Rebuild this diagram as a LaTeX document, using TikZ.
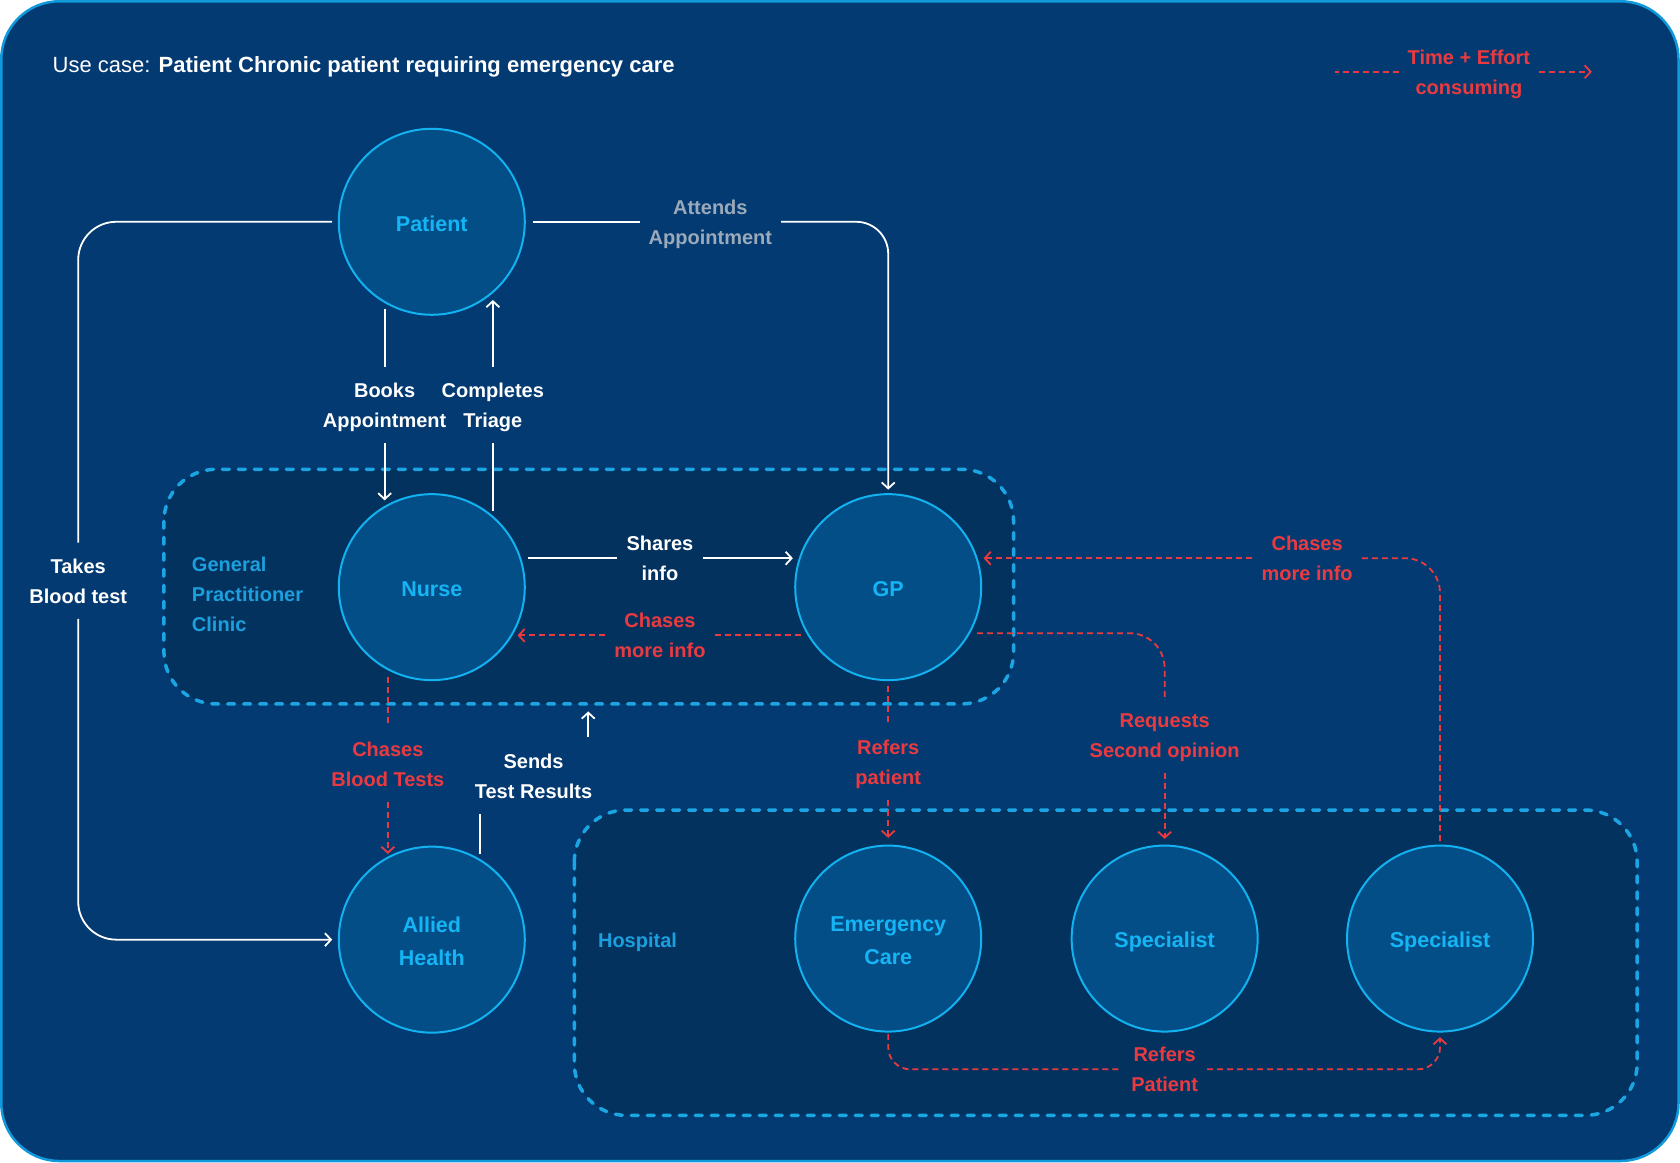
\documentclass[tikz,border=0pt]{standalone}
\usepackage{fontspec}
\setmainfont{Liberation Sans}
\usetikzlibrary{arrows.meta,calc}
\definecolor{bgc}{HTML}{033A72}
\definecolor{framec}{HTML}{109ADB}
\definecolor{gfill}{HTML}{03325F}
\definecolor{gstroke}{HTML}{1BA5E2}
\definecolor{glabel}{HTML}{1C9FDD}
\definecolor{cfill}{HTML}{034E87}
\definecolor{cstroke}{HTML}{12B2F0}
\definecolor{ctext}{HTML}{15B5F5}
\definecolor{redc}{HTML}{EA3A40}
\definecolor{greyc}{HTML}{9BAABB}
\newcommand\lblT{\rule{0pt}{19.7pt}}
\newcommand\lblB{\rule[-4.6pt]{0pt}{4.6pt}}
\newcommand\crcT{\rule{0pt}{22.6pt}}
\newcommand\crcB{\rule[-4pt]{0pt}{4pt}}
\begin{document}
\begin{tikzpicture}[x=1.0714pt,y=-1.0714pt,
  circ/.style={circle, minimum size=186pt, inner sep=0pt, draw=cstroke, line width=2pt, fill=cfill, text=ctext, font=\fontsize{21.5pt}{33pt}\selectfont\bfseries, align=center},
  lbl/.style={font=\fontsize{20pt}{30pt}\selectfont\bfseries, align=center, inner xsep=9pt, inner ysep=10.8pt},
  wl/.style={draw=white, line width=1.8pt},
  rl/.style={draw=redc, line width=1.8pt, dash pattern=on 6pt off 4pt},
  grp/.style={draw=gstroke, fill=gfill, line width=3.5pt, dash pattern=on 7pt off 9pt, line cap=round, rounded corners=52pt},
  >={Straight Barb[length=6pt,width=13pt]}
]
\useasboundingbox (0,0) rectangle (1568,1085);
\fill[white] (0,0) rectangle (1568,1085);
\draw[draw=framec, fill=bgc, line width=2.5pt, rounded corners=58pt] (1.2,1.2) rectangle (1566.6,1083.6);

% groups
\draw[grp] (153,438) rectangle (946,657);
\draw[grp] (536,756) rectangle (1528,1041);
\node[anchor=west, text=glabel, align=left, inner sep=0pt, font=\fontsize{20pt}{30pt}\selectfont\bfseries] (gplabel) at (179,555) {General\\Practitioner\\Clinic};
\node[anchor=base west, text=glabel, inner sep=0pt, font=\fontsize{20pt}{30pt}\selectfont\bfseries] (hosplabel) at (558,884.5) {Hospital};

% title and legend
\node[anchor=base west, text=white, inner sep=0pt, font=\fontsize{22pt}{26pt}\selectfont] (title) at (49,67.5) {Use case: \textbf{Patient Chronic patient requiring emergency care}};
\node[lbl, text=redc] (legend) at (1371,67) {\lblT Time + Effort\\consuming\lblB};
\draw[rl] (legend.west) -- ++(-59,0);
\draw[rl,->] (legend.east) -- ++(49,0);

% circles
\node[circ] (patient) at (403,207) {\crcT Patient\crcB};
\node[circ] (nurse) at (403,548) {\crcT Nurse\crcB};
\node[circ] (gp) at (829,548) {\crcT GP\crcB};
\node[circ] (allied) at (403,877) {\crcT Allied\\Health\crcB};
\node[circ] (emerg) at (829,876) {\crcT Emergency\\Care\crcB};
\node[circ] (spec1) at (1087,876) {\crcT Specialist\crcB};
\node[circ] (spec2) at (1344,876) {\crcT Specialist\crcB};

% labels
\node[lbl, text=white] (takes) at (73,542) {\lblT Takes\\Blood test\lblB};
\node[lbl, text=greyc] (attends) at (663,207) {\lblT Attends\\Appointment\lblB};
\node[lbl, text=white] (books) at (359,378) {\lblT Books\\Appointment\lblB};
\node[lbl, text=white] (completes) at (460,378) {\lblT Completes\\Triage\lblB};
\node[lbl, text=white] (shares) at (616,521) {\lblT Shares\\info\lblB};
\node[lbl, text=redc] (chasesN) at (616,593) {\lblT Chases\\more info\lblB};
\node[lbl, text=redc] (chasesBT) at (362,713) {\lblT Chases\\Blood Tests\lblB};
\node[lbl, text=white] (sends) at (498,724) {\lblT Sends\\Test Results\lblB};
\node[lbl, text=redc] (refersP) at (829,711) {\lblT Refers\\patient\lblB};
\node[lbl, text=redc] (requests) at (1087,686) {\lblT Requests\\Second opinion\lblB};
\node[lbl, text=redc] (chasesGP) at (1220,521) {\lblT Chases\\more info\lblB};
\node[lbl, text=redc] (refersS) at (1087,998) {\lblT Refers\\Patient\lblB};

% white connectors
\draw[wl, rounded corners=38pt] ($(patient)+(-93,0)$) -| (takes.north);
\draw[wl,->, rounded corners=38pt] (takes.south) |- ($(allied)+(-93,0)$);
\draw[wl] ($(patient)+(94,0)$) -- (attends.west);
\draw[wl,->, rounded corners=32pt] (attends.east) -| ($(gp)+(0,-91)$);
\draw[wl] ($(patient)+(-44,81)$) -- (books.north);
\draw[wl,->] (books.south) -- ($(nurse)+(-44,-81)$);
\draw[wl] ($(nurse)+(57,-71)$) -- (completes.south);
\draw[wl,->] (completes.north) -- ($(patient)+(57,73)$);
\draw[wl] ($(nurse)+(90,-27)$) -- (shares.west);
\draw[wl,->] (shares.east) -- ($(gp)+(-89,-27)$);
\draw[wl] ($(allied)+(45,-80)$) -- ($(allied)+(45,-117)$);
\draw[wl,->] ($(sends)+(51,-36)$) -- ($(sends)+(51,-60)$);

% red connectors
\draw[rl] ($(gp)+(-81,45)$) -- (chasesN.east);
\draw[rl,->] (chasesN.west) -- ($(nurse)+(80,45)$);
\draw[rl] ($(nurse)+(-41,84)$) -- (chasesBT.north);
\draw[rl,->] (chasesBT.south) -- ($(allied)+(-41,-80)$);
\draw[rl] ($(gp)+(0,92)$) -- (refersP.north);
\draw[rl,->] (refersP.south) -- ($(emerg)+(0,-94)$);
\draw[rl, rounded corners=35pt] ($(gp)+(83,43)$) -| (requests.north);
\draw[rl,->] (requests.south) -- ($(spec1)+(0,-93)$);
\draw[rl, rounded corners=35pt] ($(spec2)+(0,-91)$) |- (chasesGP.east);
\draw[rl,->] (chasesGP.west) -- ($(gp)+(89,-27)$);
\draw[rl, rounded corners=22pt] ($(emerg)+(0,89)$) |- (refersS.west);
\draw[rl,->, rounded corners=22pt] (refersS.east) -| ($(spec2)+(0,92)$);
\end{tikzpicture}
\end{document}
